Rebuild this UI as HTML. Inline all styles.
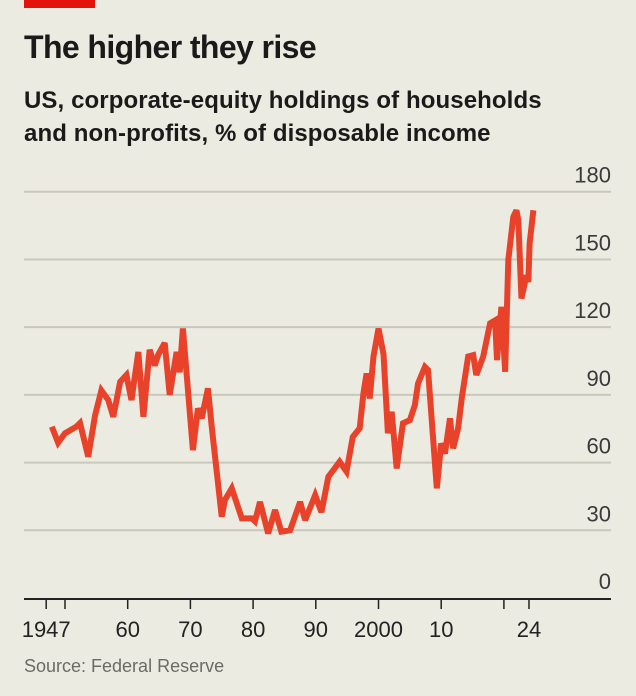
<!DOCTYPE html>
<html><head><meta charset="utf-8"><style>
html,body{margin:0;padding:0;background:#ecebe1;}
body{width:636px;height:696px;position:relative;overflow:hidden;font-family:"Liberation Sans",sans-serif;}
</style></head><body>
<div style="position:absolute;left:24px;top:0;width:71px;height:8px;background:#e3120b"></div>
<div style="position:absolute;left:24px;top:29px;font-size:32px;font-weight:bold;color:#1a1a1a;letter-spacing:-0.6px">The higher they rise</div>
<div style="position:absolute;left:24px;top:84px;font-size:24px;font-weight:bold;line-height:33px;color:#1a1a1a;letter-spacing:0.1px">US, corporate-equity holdings of households<br>and non-profits, % of disposable income</div>
<svg id="chart" width="636" height="696" style="position:absolute;left:0;top:0"></svg>
<div style="position:absolute;left:24px;top:656px;font-size:18px;color:#6b6b66">Source: Federal Reserve</div>
<script>
const years=[1947.9,1948.9,1950,1951.8,1952.4,1953.7,1954.8,1955.8,1956.9,1957.7,1958.8,1959.8,1960.6,1961.7,1962.5,1963.5,1964.3,1964.9,1965.9,1966.7,1967.8,1968.3,1968.8,1970.4,1971.2,1971.8,1972.8,1973.4,1975,1975.5,1976.6,1978.2,1979.8,1980.3,1981.1,1982.4,1983.5,1984.5,1985.9,1987.5,1988.3,1989.9,1990.9,1992,1993,1993.8,1994.9,1995.9,1997,1997.6,1998.1,1998.6,1999.2,2000,2000.8,2001.5,2002.1,2002.9,2003.9,2005,2005.8,2006.3,2007.4,2007.9,2009.3,2010,2010.6,2011.4,2011.9,2012.7,2013.3,2014.3,2015.1,2015.6,2016.7,2017.8,2018.6,2018.9,2019.6,2020.2,2020.7,2021.5,2022,2022.3,2022.8,2023.6,2023.9,2024.1,2024.7];
const values=[75.9,68.8,73,75.9,77.5,62.6,81,92,87.7,80.3,95.8,98.8,87.7,109,80.3,110,103,108,113,90,109,100,119.4,65.5,84,79.6,92.9,75.9,36,43.4,48.6,35.3,35.3,34,42.6,28.6,39,29.4,30,42.6,34.5,45.6,38,53.7,57.4,60.4,56,71.4,75.2,90.7,99.5,88.4,107,119.4,108,73,82.5,57.4,77.4,78.8,85.5,95,102.4,101,48.6,68.5,64,79.6,66.3,75.2,89,107,107.6,98.8,107,121.7,123,105.4,129,100.2,149.7,168.9,171.8,167.4,132.7,143,140,157,171.8];
const yTicks=[0,30,60,90,120,150,180];
const xTickYears=[1947,1950,1960,1970,1980,1990,2000,2010,2020,2024];
const xLabelYears=[1947,1960,1970,1980,1990,2000,2010,2024];
const xLabels=["1947","60","70","80","90","2000","10","24"];
const NS="http://www.w3.org/2000/svg";
const svg=document.getElementById('chart');
const X=y=>65+(y-1950)*6.27;
const Y=v=>598-v*2.257;
function mk(t,a){const e=document.createElementNS(NS,t);for(const k in a)e.setAttribute(k,a[k]);svg.appendChild(e);return e;}
yTicks.forEach(v=>{
 if(v>0){const g=mk('line',{x1:24,x2:611,y1:Y(v),y2:Y(v),stroke:'#c9c8bd','stroke-width':2});
 
 }
 const t=mk('text',{x:611,y:Y(v)-9,'text-anchor':'end','font-size':22,fill:'#3a3a3a','font-family':'Liberation Sans, sans-serif'});
 t.textContent=v;
 
 
});
const ax=mk('line',{x1:24,x2:611,y1:599,y2:599,stroke:'#222','stroke-width':2});


xTickYears.forEach(yr=>{
 const t=mk('line',{x1:X(yr),x2:X(yr),y1:599,y2:609,stroke:'#222','stroke-width':1.5});
 
 
});
xLabelYears.forEach((yr,i)=>{
 const t=mk('text',{x:X(yr),y:637,'text-anchor':'middle','font-size':22,fill:'#222','font-family':'Liberation Sans, sans-serif'});
 t.textContent=xLabels[i];
 
 
});
const p=mk('polyline',{points:years.map((y,i)=>X(y)+','+Y(values[i])).join(' '),fill:'none',stroke:'#e8432a','stroke-width':6,'stroke-linejoin':'miter','stroke-miterlimit':3});


</script>
</body></html>
